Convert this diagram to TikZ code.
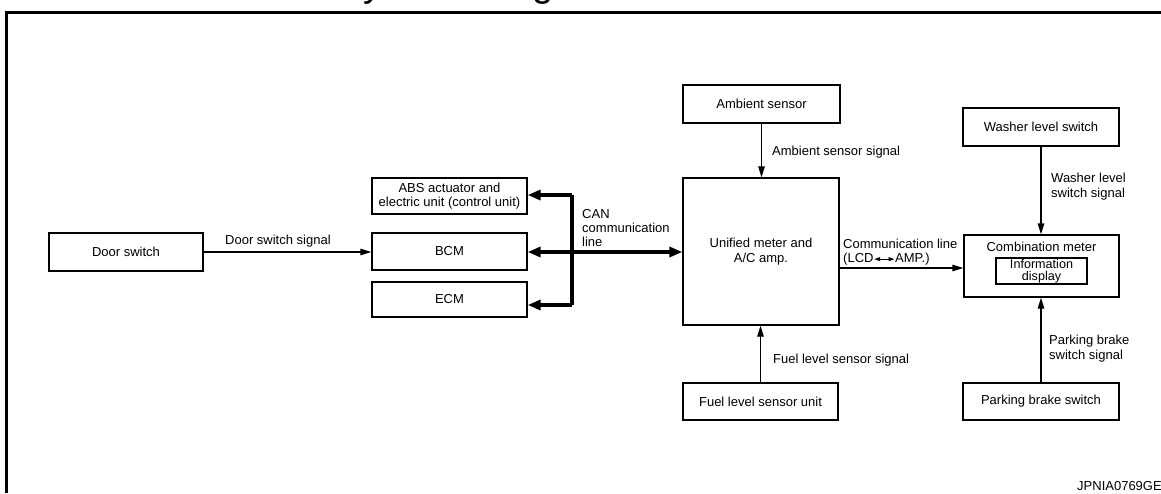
\documentclass[tikz,border=0pt]{standalone}
\usepackage{fontspec}
\setmainfont{Liberation Sans}
\usetikzlibrary{arrows.meta,calc}

\tikzset{
  box/.style={draw, line width=1.3pt, inner sep=0pt, align=center},
  lbl/.style={inner sep=0pt, align=left, anchor=west},
  arr/.style={line width=1.3pt, -{Triangle[length=11pt,width=6.5pt]}},
  canline/.style={line width=3.6pt},
  canarr/.style={line width=3.6pt, -{Triangle[length=13pt,width=10pt]}},
  canboth/.style={line width=3.6pt, {Triangle[length=13pt,width=10pt]}-{Triangle[length=13pt,width=10pt]}},
}

\begin{document}
\begin{tikzpicture}[x=1pt, y=-1pt, font=\fontsize{13}{14.3}\selectfont]
\useasboundingbox (0,0) rectangle (1161,493);

% heading (mostly above the page edge)
\node[anchor=base west, inner sep=0pt, font=\fontsize{38}{38}\selectfont] (title) at (338,-3.5) {System Diagram};

% frame
\draw[line width=3.3pt] (6.7,493) -- (6.7,12.5) -- (1161,12.5);

% left column
\node[box, minimum width=154pt, minimum height=38pt] (door) at (126,252) {Door switch};
\node[box, minimum width=155pt, minimum height=36pt] (abs) at (449.5,196) {ABS actuator and\\electric unit (control unit)};
\node[box, minimum width=155pt, minimum height=37pt] (bcm) at (449.5,251.5) {BCM};
\node[box, minimum width=155pt, minimum height=35pt] (ecm) at (449.5,299.5) {ECM};

% centre column
\node[box, minimum width=157pt, minimum height=38pt] (ambient) at (761.5,104) {Ambient sensor};
\node[box, minimum width=156pt, minimum height=147pt] (unified) at (761,251.5) {Unified meter and\\A/C amp.};
\node[box, minimum width=155pt, minimum height=37pt] (fuel) at (760.5,401.5) {Fuel level sensor unit};

% right column
\node[box, minimum width=156pt, minimum height=38pt] (washer) at (1041,127) {Washer level switch};
\node[box, minimum width=155pt, minimum height=62pt] (combo) at (1041.5,266) {};
\node[inner sep=0pt] (combotitle) at (1041.5,247) {Combination meter};
\node[box, minimum width=91pt, minimum height=26pt, font=\fontsize{12.6}{12}\selectfont] (info) at (1041.5,271) {Information\\display};
\node[box, minimum width=156pt, minimum height=37pt] (parking) at (1041,401.5) {Parking brake switch};

% door switch signal
\draw[arr] (door.east) -- (door.east -| bcm.west);
\node[lbl] (doorlbl) at (225,241) {Door switch signal};

% CAN communication line
\coordinate (busT) at (572,195);
\coordinate (busM) at (572,252);
\coordinate (busB) at (572,305);
\draw[canline] (busT) -- (busB);
\draw[canarr] (busT) -- (busT -| abs.east);
\draw[canarr] (busB) -- (busB -| ecm.east);
\draw[canboth] (busM -| bcm.east) -- (busM -| unified.west);
\node[lbl] (canlbl) at (582,228) {CAN\\communication\\line};

% ambient / fuel level signals
\draw[arr] (ambient.south) -- (ambient.south |- unified.north);
\node[lbl] (amblbl) at (772,152) {Ambient sensor signal};
\draw[arr] (fuel.north) -- (fuel.north |- unified.south);
\node[lbl] (fuellbl) at (773,360) {Fuel level sensor signal};

% communication line to combination meter
\coordinate (comm) at (839,268);
\draw[arr] (comm) -- (comm -| combo.west);
\node[lbl] (commlbl) at (843,244) {Communication line};
\node[inner sep=0pt, anchor=base west] (lcd) at (843,262) {(LCD};
\node[inner sep=0pt, anchor=base west] (amp) at (895,262) {AMP.)};
\draw[line width=0.9pt, {Triangle[length=6pt,width=4pt]}-{Triangle[length=6pt,width=4pt]}]
  ($(lcd.east)+(0.5,0.5)$) -- ($(amp.west)+(-0.5,0.5)$);

% washer / parking brake signals
\draw[arr] (washer.south) -- (washer.south |- combo.north);
\node[lbl] (washlbl) at (1051,186.5) {Washer level\\switch signal};
\draw[arr] (parking.north) -- (parking.north |- combo.south);
\node[lbl] (parklbl) at (1049,348.5) {Parking brake\\switch signal};

% figure code
\node[lbl] (code) at (1077,486) {JPNIA0769GE};
\end{tikzpicture}
\end{document}
